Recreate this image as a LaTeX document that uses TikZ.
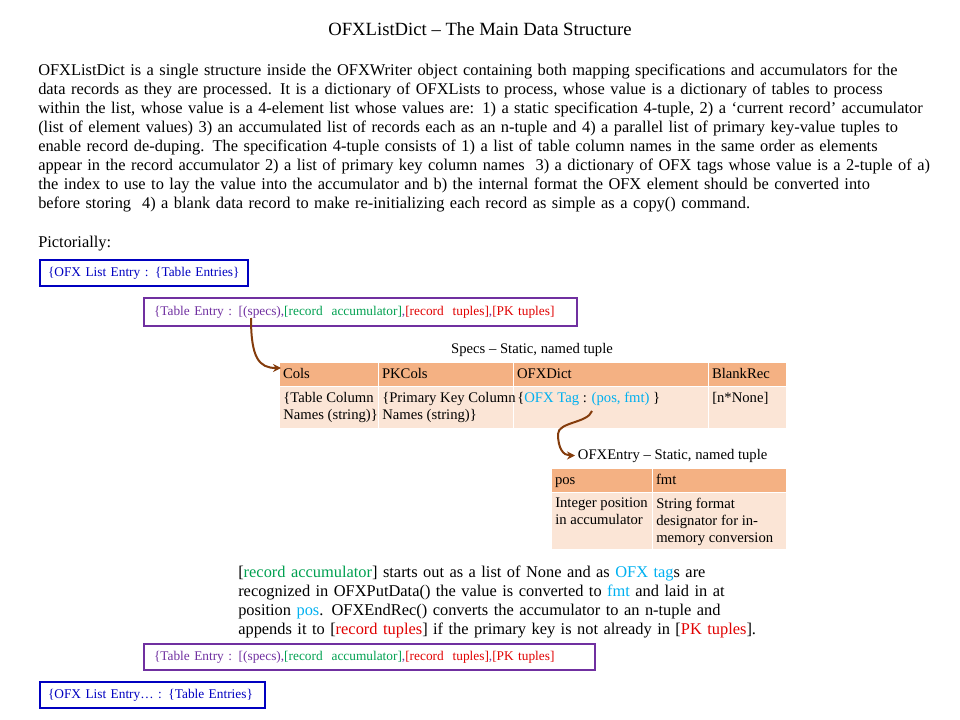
\documentclass[tikz,border=0pt]{standalone}
\usepackage{fontspec}
\setmainfont{Liberation Serif}
\usetikzlibrary{arrows.meta}

\definecolor{listblue}{HTML}{0000C0}
\definecolor{entrypurple}{HTML}{7030A0}
\definecolor{accgreen}{HTML}{00A050}
\definecolor{tuplered}{HTML}{E00000}
\definecolor{tagblue}{HTML}{00B0F0}
\definecolor{headfill}{HTML}{F4B183}
\definecolor{bodyfill}{HTML}{FBE5D6}
\definecolor{arrowbrown}{HTML}{843C0C}

\newcommand{\titlefont}{\fontsize{14}{16}\selectfont}
\newcommand{\bodyfont}{\fontsize{12.3}{14.25}\selectfont}
\newcommand{\cellfont}{\fontsize{11}{12.75}\selectfont}
\newcommand{\boxfont}{\fontsize{10}{12}\selectfont}
\newcommand{\tentrytext}{\textcolor{entrypurple}{\{Table Entry : [(specs),}\textcolor{accgreen}{[record\ \ accumulator]}\textcolor{entrypurple}{,}\textcolor{tuplered}{[record\ \ tuples]}\textcolor{entrypurple}{,}\textcolor{tuplered}{[PK tuples]}}

\begin{document}
\begin{tikzpicture}[x=0.75pt,y=-0.75pt,
    listbox/.style={draw=listblue, line width=1.5pt, text=listblue, anchor=north west,
      inner xsep=6pt, inner ysep=0pt, align=left, font=\boxfont},
    entrybox/.style={draw=entrypurple, line width=1.5pt, anchor=north west,
      inner xsep=7.5pt, inner ysep=0pt, align=left, font=\boxfont},
    headcell/.style={fill=headfill, draw=white, line width=0.75pt, anchor=north west,
      outer sep=0pt, inner xsep=3pt, inner ysep=0pt, align=left, minimum height=18pt,
      text height=8.5pt, text depth=1.5pt, font=\cellfont},
    bodycell/.style={fill=bodyfill, draw=white, line width=0.75pt, anchor=north west,
      outer sep=0pt, inner sep=0pt},
    celltext/.style={anchor=north west, inner xsep=3pt, inner ysep=4.5pt, align=left, font=\cellfont},
    flowarrow/.style={draw=arrowbrown, line width=1.5pt, -{Stealth[length=6pt,width=6pt]}}]
  \useasboundingbox (0,0) rectangle (960,720);

  \node[anchor=base, font=\titlefont] (title) at (480,36) {OFXListDict – The Main Data Structure};
  \node[anchor=base west, inner sep=0pt, text width=700pt, align=left, font=\bodyfont] (intro) at (38,76)
    {OFXListDict is a single structure inside the OFXWriter object containing both mapping specifications and accumulators for the\\
     data records as they are processed.  It is a dictionary of OFXLists to process, whose value is a dictionary of tables to process\\
     within the list, whose value is a 4-element list whose values are: 1) a static specification 4-tuple, 2) a ‘current record’ accumulator\\
     (list of element values) 3) an accumulated list of records each as an n-tuple and 4) a parallel list of primary key-value tuples to\\
     enable record de-duping.  The specification 4-tuple consists of 1) a list of table column names in the same order as elements\\
     appear in the record accumulator 2) a list of primary key column names\ \ 3) a dictionary of OFX tags whose value is a 2-tuple of a)\\
     the index to use to lay the value into the accumulator and b) the internal format the OFX element should be converted into\\
     before storing\ \ 4) a blank data record to make re-initializing each record as simple as a copy() command.};
  \node[anchor=base west, inner sep=0pt, font=\bodyfont] (pict) at (38,248) {Pictorially:};

  % top entries
  \node[listbox, text width=144pt, minimum height=19.5pt] (list1) at (39,259) {\mbox{\{OFX List Entry : \{Table Entries\}}};
  \node[entrybox, text width=309.75pt, minimum height=21pt] (tentry1) at (143,297) {\tentrytext};

  % specs tuple
  \node[anchor=base, font=\cellfont] (specstitle) at (532,353) {Specs – Static, named tuple};
  \node[headcell, text width=68.25pt] (colshead) at (279,362) {Cols};
  \node[headcell, text width=95.25pt] (pkhead) at (colshead.north east) {PKCols};
  \node[headcell, text width=140.25pt] (dicthead) at (pkhead.north east) {OFXDict};
  \node[headcell, text width=52.5pt] (blankhead) at (dicthead.north east) {BlankRec};
  \node[bodycell, minimum width=74.25pt, minimum height=31.5pt] (colsbody) at (colshead.south west) {};
  \node[bodycell, minimum width=101.25pt, minimum height=31.5pt] (pkbody) at (pkhead.south west) {};
  \node[bodycell, minimum width=146.25pt, minimum height=31.5pt] (dictbody) at (dicthead.south west) {};
  \node[bodycell, minimum width=58.5pt, minimum height=31.5pt] (blankbody) at (blankhead.south west) {};
  \node[celltext] (colstext) at (colsbody.north west) {\{Table Column\\Names (string)\}};
  \node[celltext] (pktext) at (pkbody.north west) {\{Primary Key Column\\Names (string)\}};
  \node[celltext] (dicttext) at (dictbody.north west)
    {\{\textcolor{tagblue}{OFX Tag} : \textcolor{tagblue}{(pos, fmt)} \}};
  \node[celltext] (blanktext) at (blankbody.north west) {[n*None]};

  % entry tuple
  \node[anchor=base west, inner sep=2pt, font=\cellfont] (entrytitle) at (575,459) {OFXEntry – Static, named tuple};
  \node[headcell, text width=69.75pt] (poshead) at (551,468) {pos};
  \node[headcell, text width=94.5pt] (fmthead) at (poshead.north east) {fmt};
  \node[bodycell, minimum width=75.75pt, minimum height=42.75pt] (posbody) at (poshead.south west) {};
  \node[bodycell, minimum width=100.5pt, minimum height=42.75pt] (fmtbody) at (fmthead.south west) {};
  \node[celltext] (postext) at (posbody.north west) {Integer position\\in accumulator};
  \node[celltext] (fmttext) at (fmtbody.north west) {String format\\designator for in-\\memory conversion};

  \coordinate (specsmark) at (251,318);
  \coordinate (colstip) at (281,368);
  \coordinate (dictmark) at (592,411);
  \draw[flowarrow] (specsmark) .. controls +(0,40) and +(-22,0) .. (colstip);
  \draw[flowarrow] (dictmark) .. controls +(-4,12) and +(0,-12) .. ++(-34,23)
    .. controls +(0,14) and +(-12,0) .. (entrytitle.west);

  \node[anchor=base west, inner sep=0pt, text width=400pt, align=left, font=\bodyfont] (accnote) at (238,577)
    {[\textcolor{accgreen}{record accumulator}] starts out as a list of None and as \textcolor{tagblue}{OFX tag}s are\\
     recognized in OFXPutData() the value is converted to \textcolor{tagblue}{fmt} and laid in at\\
     position \textcolor{tagblue}{pos}.  OFXEndRec() converts the accumulator to an n-tuple and\\
     appends it to [\textcolor{tuplered}{record tuples}] if the primary key is not already in [\textcolor{tuplered}{PK tuples}].};

  % bottom entries
  \node[entrybox, text width=323.25pt, minimum height=19.5pt] (tentry2) at (143,643) {\tentrytext};
  \node[listbox, text width=156.75pt, minimum height=19.5pt] (list2) at (39,681) {\mbox{\{OFX List Entry… : \{Table Entries\}}};
\end{tikzpicture}
\end{document}
